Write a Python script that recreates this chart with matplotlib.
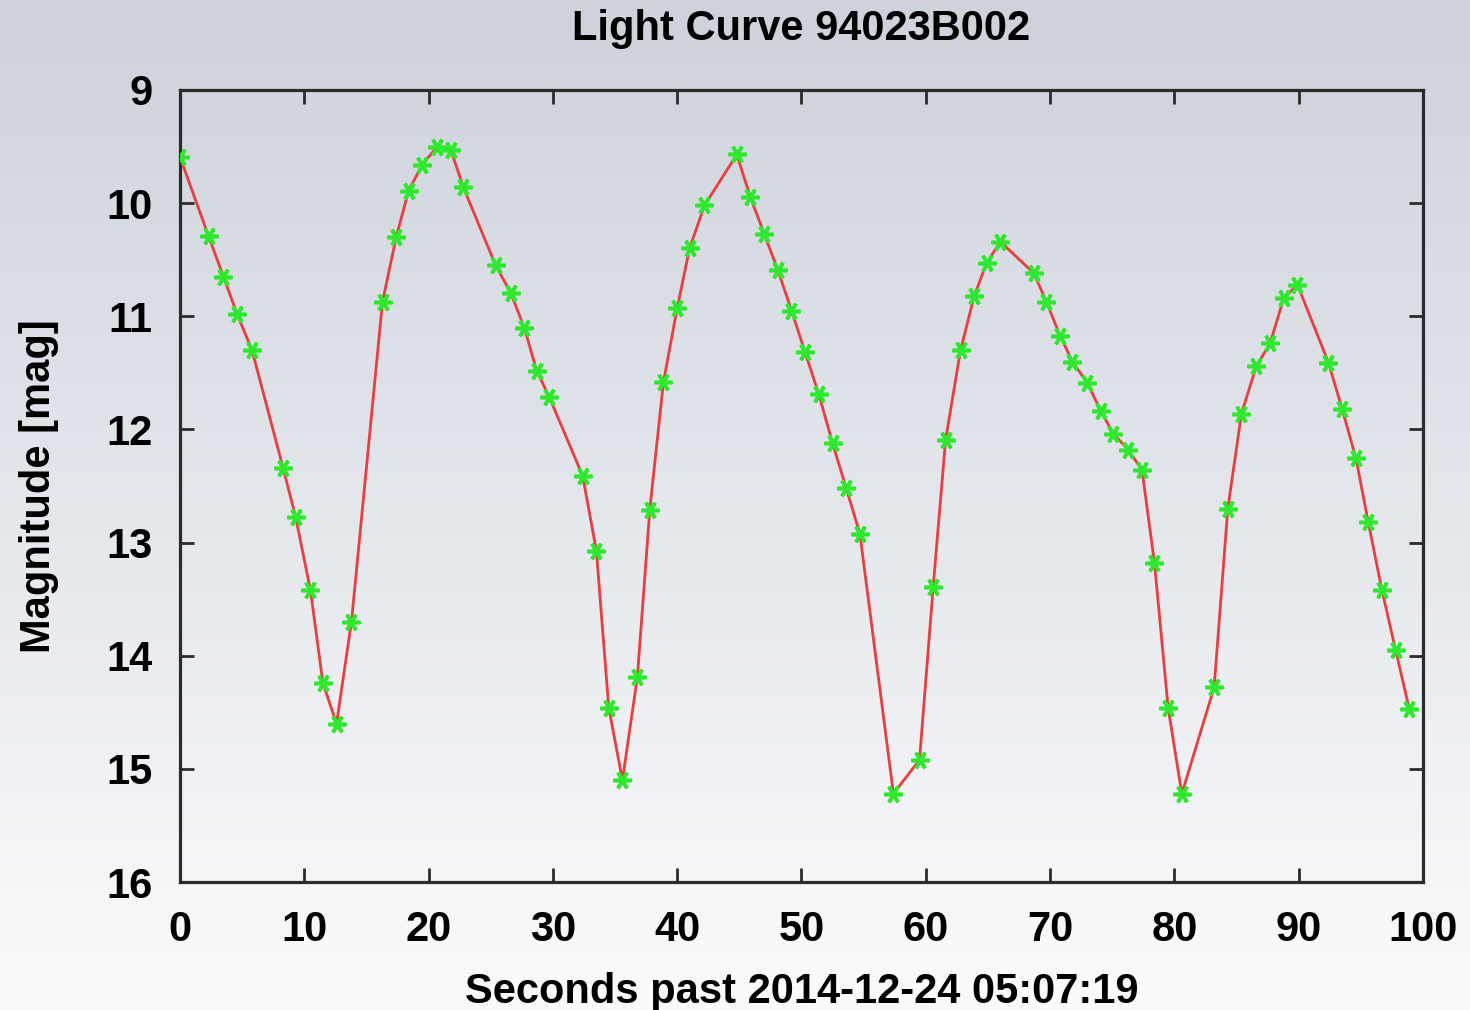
import numpy as np
import matplotlib
matplotlib.use("Agg")
import matplotlib.pyplot as plt

# light curve samples: seconds since start, magnitude
seconds = [0.0, 2.3, 3.5, 4.6, 5.8, 8.3, 9.3, 10.5, 11.5, 12.6, 13.8,
           16.3, 17.4, 18.4, 19.5, 20.7, 21.8, 22.8, 25.4, 26.6, 27.7,
           28.7, 29.7, 32.4, 33.5, 34.5, 35.6, 36.8, 37.8, 38.9, 40.0,
           41.0, 42.2, 44.8, 45.9, 47.0, 48.1, 49.2, 50.3, 51.4, 52.5,
           53.6, 54.7, 57.4, 59.5, 60.6, 61.6, 62.8, 63.9, 64.9, 66.0,
           68.7, 69.7, 70.8, 71.8, 73.0, 74.1, 75.1, 76.3, 77.4, 78.4,
           79.5, 80.6, 83.2, 84.3, 85.4, 86.6, 87.7, 88.8, 89.9, 92.4,
           93.5, 94.6, 95.6, 96.7, 97.8, 98.9]
magnitude = [9.59, 10.29, 10.65, 10.98, 11.30, 12.34, 12.77, 13.42, 14.24, 14.60, 13.70,
             10.87, 10.30, 9.89, 9.66, 9.50, 9.53, 9.86, 10.55, 10.79, 11.10,
             11.48, 11.71, 12.41, 13.07, 14.46, 15.10, 14.19, 12.71, 11.58, 10.93,
             10.40, 10.02, 9.57, 9.95, 10.27, 10.59, 10.95, 11.32, 11.69, 12.12,
             12.52, 12.92, 15.22, 14.92, 13.39, 12.09, 11.30, 10.82, 10.53, 10.34,
             10.62, 10.87, 11.17, 11.40, 11.59, 11.84, 12.04, 12.18, 12.36, 13.18,
             14.46, 15.22, 14.28, 12.70, 11.86, 11.44, 11.24, 10.84, 10.72, 11.41,
             11.82, 12.25, 12.82, 13.42, 13.95, 14.47]

xticks = [0, 10, 20, 30, 40, 50, 60, 70, 80, 90, 100]
yticks = [9, 10, 11, 12, 13, 14, 15, 16]

plt.rcParams["font.family"] = ["Liberation Sans", "DejaVu Sans"]
plt.rcParams["font.weight"] = "bold"

fig = plt.figure(figsize=(14.7, 10.1), dpi=100)

# vertical gray-blue to white gradient behind everything
bg = fig.add_axes([0, 0, 1, 1], zorder=-10)
top = np.array([205, 210, 219]) / 255
bot = np.array([250, 251, 252]) / 255
t = np.linspace(0, 1, 256)[:, None]
grad = (top * (1 - t) + bot * t)[:, None, :]
bg.imshow(grad, aspect="auto", extent=[0, 1, 0, 1], interpolation="bicubic")
bg.axis("off")

ax = fig.add_axes([0.1224, 0.1267, 0.8456, 0.7842])
ax.patch.set_alpha(0)

ax.plot(seconds, magnitude, "-", color="#ee3b3b", lw=2.0, zorder=3)
ax.plot(seconds, magnitude, ls="none", marker=(6, 2, 90), ms=13, mew=2.6,
        color="#2ee82e", zorder=4)

ax.set_xlim(0, 100)
ax.set_ylim(16, 9)
ax.set_xticks(xticks)
ax.set_yticks(yticks)

for s in ax.spines.values():
    s.set_linewidth(2.3)
    s.set_color("#2b2b2b")
ax.tick_params(direction="in", length=10, width=2, color="#2b2b2b",
               top=True, right=True, labelsize=30)
ax.tick_params(axis="x", pad=20)
ax.tick_params(axis="y", pad=20)

ax.set_title("Light Curve 94023B002", fontsize=30, fontweight="bold", pad=36)
ax.set_xlabel("Seconds past 2014-12-24 05:07:19", fontsize=30, fontweight="bold", labelpad=16)
ax.set_ylabel("Magnitude [mag]", fontsize=30, fontweight="bold", labelpad=34)

fig.savefig("out.png", dpi=100)
